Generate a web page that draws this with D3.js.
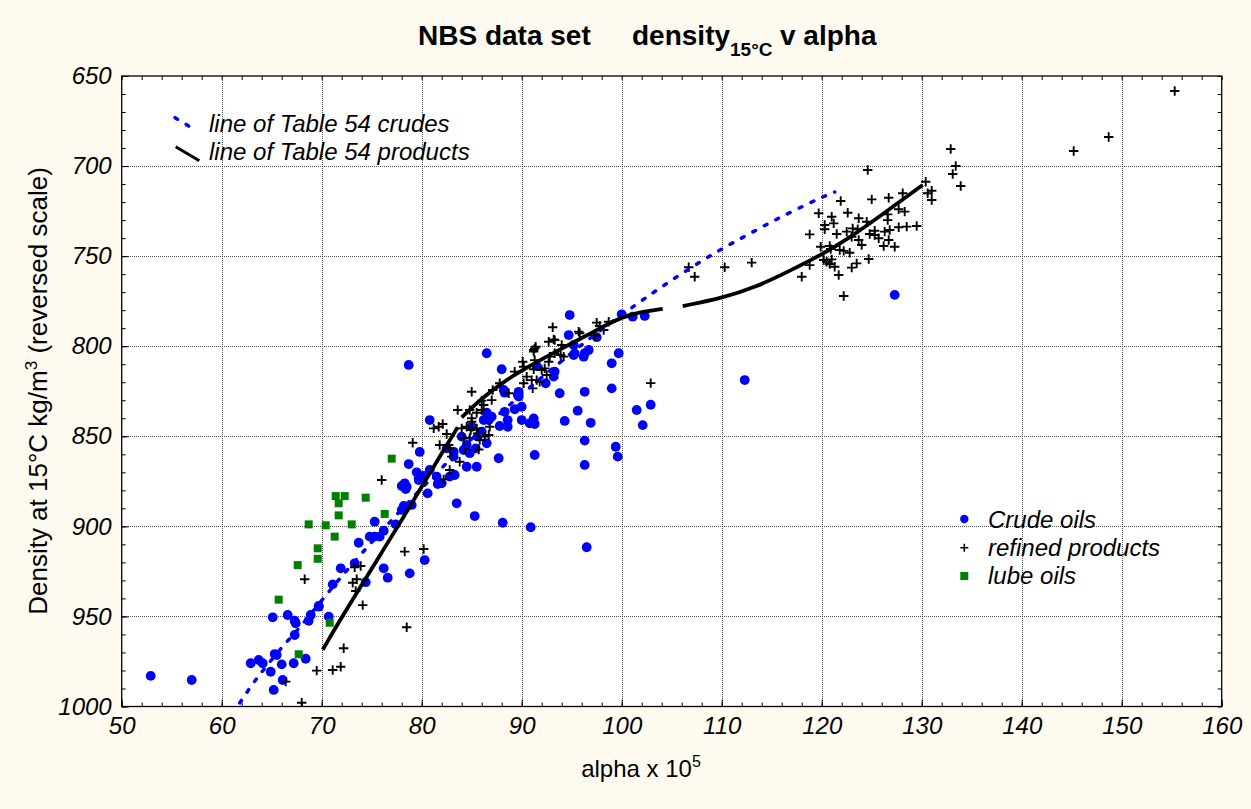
<!DOCTYPE html>
<html><head><meta charset="utf-8">
<script src="https://cdn.jsdelivr.net/npm/d3@7"></script>
<style>
html,body{margin:0;padding:0;background:#fffaf0;}
svg{display:block;}
text{font-family:"Liberation Sans",Arial,sans-serif;}
</style></head><body>
<svg id="chart" width="1251" height="809"></svg>
<script>
// ---- data: [alpha x 1e5, density kg/m3] ----
const crudeOils = [
 [52.9,983],[57,985.3],[65.1,950.5],[66.6,949.2],[67.3,952.4],[67.4,953.8],[68.7,952.4],[68.9,949.2],[69.7,944.6],[70.7,950.1],
 [67.3,960.3],[65.3,970.9],[65.5,971.4],[62.9,976],[63.7,974.2],[64.1,976],[64.9,980.7],[66,976.6],[67.2,976],[68.4,973.5],
 [65.2,990.8],[66.1,985.3],
 [79.8,858.7],[78.7,865.4],[78,877.6],[78.4,879.3],[79.7,874.3],[80.8,868.7],[78.2,888.7],[78,890.9],[79,888.1],[77.4,898.9],
 [75.3,897.4],[76.2,902.4],[74.8,905.7],[75.3,905.7],[75.8,905.7],[73.7,909.1],[80.3,918.7],[76.2,923.3],[76.6,928.5],[78.8,926.1],
 [74.4,931],[71.9,923.3],[73.3,920.5],[71.1,932.2],[69.7,944.2],[80.2,872],[79.5,870],
 [78.7,810.4],[86.5,803.9],[80.8,841],[78.5,878],[80.6,881.7],[83.5,887.2],[85.3,894.3],[88.1,898],[90.9,900.5],[96.5,911.6],
 [88,812.8],[88.3,825.8],[89.7,825.3],[89.7,828],[90,833.6],[89.3,835],[88.3,836.4],[91.5,811],[93.3,814.1],[93.2,816.9],
 [92.4,820.6],[93.8,826.1],[96.3,825.3],[96.3,803.9],[96.7,802.1],[95.2,804.9],[96.2,805.8],[99,809.5],[99.7,803.9],[99,823.4],
 [95.6,835.8],[96.9,842.5],[94.3,841.5],[96.3,852.4],[99.4,855.8],[99.6,861.3],[96.3,865.9],[101.5,835.4],[91.3,860.4],[90.8,842.8],
 [91.3,843.2],[90,841],[88.6,841],[88.6,844.7],[87.8,844.3],[86.7,841],[87,839.1],[86.2,841],[86.5,836.9],[88.2,824.3],[89.6,827],
 [87.7,862.2],[85.5,866.9],[84.5,866.9],[82.8,872.4],[83.3,871.5],[82,876.1],[81.5,872.4],[81.6,876.5],[83.2,861.3],[83.2,858.6],
 [84.2,857.6],[84.5,854.8],[84.8,859.4],[85.4,856.7],[85.6,850.2],[86.5,853.9],[86,847.4],[85,844.7],[84,850.2],[82.5,856.7],
 [79.7,873.3],[78.3,876.1],[91.2,840.1],
 [94.8,782.7],[100,782.3],[101.1,783.6],[102.3,783.2],[94.7,793.8],[95.2,799.3],[95.3,804],[97.5,795],
 [102.1,843.8],[102.9,832.5],[112.3,818.8],[127.3,771.5]
];
const refinedProducts = [
 [155.3,658.3],[148.7,683.9],[145.2,691.6],[132.9,690.5],[133.4,700],[133.1,704.4],[133.9,711.1],[124.6,702.2],[130.4,708.7],
 [130.6,715.1],[131,713.7],[131,718.8],[121.9,719.4],[125,718.5],[126.7,717.6],[128.1,715.1],[119.7,726.2],[121,728.1],[122.6,725.9],
 [123.7,729],[124.5,730.9],[126.6,726.8],[126.6,730],[127.7,724],[128.3,725.3],[118.8,737.9],[120.3,732.7],[121.2,731.8],[120.3,735.1],
 [121.5,737.7],[122.5,736.4],[123.1,734.6],[123.6,735.1],[123,739.2],[123.7,741],[124,743.8],[124.8,737.7],[125.3,735.9],[125.3,738.3],
 [125.7,740.1],[126.3,736.4],[126.8,735.5],[126.7,741],[126.2,744.4],[127.3,744.8],[127.7,734],[128.5,733.6],[129.5,733.3],[119.9,744.8],
 [120.8,744.4],[120.9,746],[121.8,746.6],[122.2,747.1],[122.8,748.1],[120.2,752.1],[120.5,753.1],[121,751.8],[120.8,754.4],[121.3,755.9],
 [121.7,760.5],[123,756.4],[123.5,754],[124.7,751.6],[118.8,755],[118,761.4],[122.2,772.1],
 [106.7,756.2],[107.3,761.4],[110.3,756.2],[113,753.6],[102.9,820.5],
 [85,825.3],[83.6,835.4],[81.2,845.6],[81.7,844.7],[82.1,843.2],[82.5,848.7],[81.8,854.8],[82.7,854.8],[82.8,856.7],[84.3,857],
 [83,861.3],[83.8,864.1],[82.8,868.7],[82.2,873.9],[84,845.6],[84.5,844.7],[85,841.9],[85,840],[85.5,836.9],[86,835.4],
 [86.2,832.6],[84.8,835.4],[84.9,846.5],[84.2,851.1],[84.8,851.1],[85.5,845.6],[85.6,848.4],[85.8,852.1],[86.3,850.2],[86.7,849.3],
 [86.8,844.7],[85.7,857.3],[87.1,824.3],[87,829.9],[87.8,820.6],[88.7,826.1],[89.3,814.1],[90.1,808.6],[90.2,811.4],[90.5,816.9],
 [90.2,820.6],[91,818.8],[91.5,818.8],[91.1,823.4],[91.2,812.8],[91.3,807.7],[92,813.2],[92.3,812.3],[92.5,816],[91.8,819.7],
 [92.7,808.6],[92.8,805.8],[93.3,803.9],[93.9,804.9],[94.2,805.8],[91.3,801.2],[91.2,803],[92.7,797.5],[93.3,796.6],[94,799.3],
 [95.8,792.8],[97.3,794.3],[98.2,791],[86,830.2],[93.1,789.5],[93.2,796.2],[91.2,802.1],[91.4,800.3],[97.5,786.9],[97.8,788.8],
 [98.7,786.4],[97.3,793.8],[95.7,791.9],
 [79.1,853.6],[76,874.3],[68.3,929.4],[73.3,922.7],[73.9,922],[73.5,929.4],[73.1,931.3],[73.4,935.9],[74.1,943.7],[78.3,914],
 [80.2,912.6],[78.5,956],[72.2,967.7],[69.5,980.1],[71.1,979.7],[71.9,977.9],[66.4,986.2],[68,997.9]
];
const lubeOils = [
 [77,862.4],[71.4,883.2],[72.3,883.2],[74.4,884.1],[71.7,887.2],[71.7,893.9],[76.3,893.1],[68.7,898.9],[70.4,899.4],[73,898.9],
 [71.3,905.7],[69.6,912.2],[69.6,918],[67.6,921.5],[65.7,940.7],[70.8,953.5],[67.7,971]
];
const crudeLine = [
 [61.8,998],[63.2,986.5],[64.2,979.5],[66.3,965],[67.5,958.5],[70.7,936.2],[71.9,928.4],[74.2,913.7],[76.6,898.9],
 [80,878.5],[85,851],[90,826.5],[95,803.5],[98,790.5],[101.5,776.6],[104.1,766.6],[106.8,756.8],[109.5,747.5],
 [112.1,739.6],[114.7,731.8],[117.3,724.4],[120,717.3],[121.3,714.4]
];
const productLineLow = [[70.1,968.5],[72,950.5],[74,932.5],[76,914.5],[78,896.5],[80,878],[82,859.5],[83.6,845]];
const productLineMid = [[84,839.5],[86,829],[88,820.5],[90,813.5],[92,807.2],[94,801.3],[96,795.5],[98,789.5],[100,783.8],[102,780.9],[104.1,779.3]];
const productLineHigh = [[106.1,777.7],[110,773.4],[113.5,767],[116.5,759],[119.9,749.5],[122.6,740.5],[125.9,727.5],[128,719],[130.1,710.5]];
const xTicks = [50,60,70,80,90,100,110,120,130,140,150,160];
const yTicks = [650,700,750,800,850,900,950,1000];

// ---- layout ----
const svg = d3.select("#chart");
const P = {left:121.7, right:1221.7, top:76, bottom:706.5};
const x = d3.scaleLinear().domain([50,160]).range([P.left,P.right]);
const y = d3.scaleLinear().domain([650,1000]).range([P.top,P.bottom]);

svg.append("rect").attr("width",1251).attr("height",809).attr("fill","#fffaf0");
svg.append("rect").attr("x",P.left).attr("y",P.top).attr("width",P.right-P.left).attr("height",P.bottom-P.top).attr("fill","#fff");

svg.append("defs").append("clipPath").attr("id","clip").append("rect")
  .attr("x",P.left).attr("y",P.top).attr("width",P.right-P.left).attr("height",P.bottom-P.top);

// grid
const grid = svg.append("g").attr("stroke","#555").attr("stroke-width",1).attr("stroke-dasharray","1,1").attr("shape-rendering","crispEdges");
grid.selectAll("line.gx").data(xTicks.slice(1,-1)).join("line").attr("class","gx")
  .attr("x1",d=>Math.round(x(d))+0.5).attr("x2",d=>Math.round(x(d))+0.5).attr("y1",P.top).attr("y2",P.bottom);
grid.selectAll("line.gy").data(yTicks.slice(1,-1)).join("line").attr("class","gy")
  .attr("y1",d=>Math.round(y(d))+0.5).attr("y2",d=>Math.round(y(d))+0.5).attr("x1",P.left).attr("x2",P.right);

// axes
const minorX = d3.range(50,161,2), minorY = d3.range(650,1001,10);
function clean(g){ g.select(".domain").remove(); g.selectAll("line").attr("stroke","#000"); }
svg.append("g").attr("transform",`translate(0,${P.bottom})`).call(d3.axisBottom(x).tickValues(minorX).tickSize(-4).tickFormat("")).call(clean);
svg.append("g").attr("transform",`translate(0,${P.top})`).call(d3.axisTop(x).tickValues(minorX).tickSize(-4).tickFormat("")).call(clean);
svg.append("g").attr("transform",`translate(${P.left},0)`).call(d3.axisLeft(y).tickValues(minorY).tickSize(-4).tickFormat("")).call(clean);
svg.append("g").attr("transform",`translate(${P.right},0)`).call(d3.axisRight(y).tickValues(minorY).tickSize(-4).tickFormat("")).call(clean);

const xa = svg.append("g").attr("transform",`translate(0,${P.bottom})`)
  .call(d3.axisBottom(x).tickValues(xTicks).tickSize(-7).tickPadding(10).tickFormat(d3.format("d"))).call(clean);
const ya = svg.append("g").attr("transform",`translate(${P.left},0)`)
  .call(d3.axisLeft(y).tickValues(yTicks).tickSize(-7).tickPadding(10).tickFormat(d3.format("d"))).call(clean);
[xa,ya].forEach(g=>g.selectAll("text").attr("font-family","'Liberation Sans',Arial,sans-serif")
  .attr("font-size",24).attr("font-style","italic").attr("fill","#000"));

// frame
svg.append("rect").attr("x",P.left).attr("y",P.top).attr("width",P.right-P.left).attr("height",P.bottom-P.top)
  .attr("fill","none").attr("stroke","#000").attr("stroke-width",1.3);

// data
const plot = svg.append("g").attr("clip-path","url(#clip)");
plot.append("g").selectAll("circle").data(crudeOils).join("circle")
  .attr("cx",d=>x(d[0])).attr("cy",d=>y(d[1])).attr("r",4.9).attr("fill","#0000ff");
plot.append("g").selectAll("rect").data(lubeOils).join("rect")
  .attr("x",d=>x(d[0])-4).attr("y",d=>y(d[1])-4).attr("width",8).attr("height",8).attr("fill","#008000");
plot.append("g").selectAll("path").data(refinedProducts).join("path")
  .attr("transform",d=>`translate(${x(d[0])},${y(d[1])})`)
  .attr("d","M-4.7,0H4.7M0,-4.7V4.7").attr("stroke","#000").attr("stroke-width",1.9).attr("fill","none");

const line = d3.line().x(d=>x(d[0])).y(d=>y(d[1])).curve(d3.curveBasis);
plot.append("path").datum(crudeLine).attr("d",line).attr("fill","none").attr("stroke","#0000ff")
  .attr("stroke-width",3.5).attr("stroke-dasharray","3,10").attr("stroke-linecap","round");
[productLineLow,productLineMid,productLineHigh].forEach(seg=>{
  plot.append("path").datum(seg).attr("d",line).attr("fill","none").attr("stroke","#000").attr("stroke-width",3.8);
});

// title
svg.append("text").attr("x",418).attr("y",45).attr("font-size",28).attr("font-weight","bold").text("NBS data set");
svg.append("text").attr("x",632).attr("y",45).attr("font-size",28).attr("font-weight","bold").text("density");
svg.append("text").attr("x",730).attr("y",56).attr("font-size",19).attr("font-weight","bold").text("15°C");
svg.append("text").attr("x",780).attr("y",45).attr("font-size",28).attr("font-weight","bold").text("v alpha");

// axis titles
const xt = svg.append("text").attr("x",641).attr("y",777).attr("text-anchor","middle").attr("font-size",24).attr("fill","#000");
xt.append("tspan").text("alpha x 10");
xt.append("tspan").attr("font-size",16).attr("dy",-10).text("5");
const yt = svg.append("text").attr("transform","translate(47,391) rotate(-90)").attr("text-anchor","middle").attr("font-size",26).attr("fill","#000");
yt.append("tspan").text("Density at 15°C kg/m");
yt.append("tspan").attr("font-size",17).attr("dy",-10).text("3");
yt.append("tspan").attr("dy",10).text(" (reversed scale)");

// legend top-left
svg.append("line").attr("x1",175).attr("y1",117.7).attr("x2",197).attr("y2",131)
  .attr("stroke","#0000ff").attr("stroke-width",3.5).attr("stroke-dasharray","3,10").attr("stroke-linecap","round");
svg.append("line").attr("x1",175.7).attr("y1",146.7).attr("x2",199.3).attr("y2",160.7)
  .attr("stroke","#000").attr("stroke-width",3);
svg.append("text").attr("x",209).attr("y",132).attr("font-size",24).attr("font-style","italic").text("line of Table 54 crudes");
svg.append("text").attr("x",209).attr("y",160).attr("font-size",24).attr("font-style","italic").text("line of Table 54 products");

// legend bottom-right
svg.append("circle").attr("cx",964.3).attr("cy",519).attr("r",4.2).attr("fill","#0000ff");
svg.append("path").attr("transform","translate(964.3,547.7)").attr("d","M-4,0H4M0,-4V4").attr("stroke","#000").attr("stroke-width",1.6);
svg.append("rect").attr("x",960.3).attr("y",572).attr("width",8).attr("height",8).attr("fill","#008000");
svg.append("text").attr("x",988).attr("y",527.5).attr("font-size",24).attr("font-style","italic").text("Crude oils");
svg.append("text").attr("x",988).attr("y",556).attr("font-size",24).attr("font-style","italic").text("refined products");
svg.append("text").attr("x",988).attr("y",584).attr("font-size",24).attr("font-style","italic").text("lube oils");
</script>
</body></html>
